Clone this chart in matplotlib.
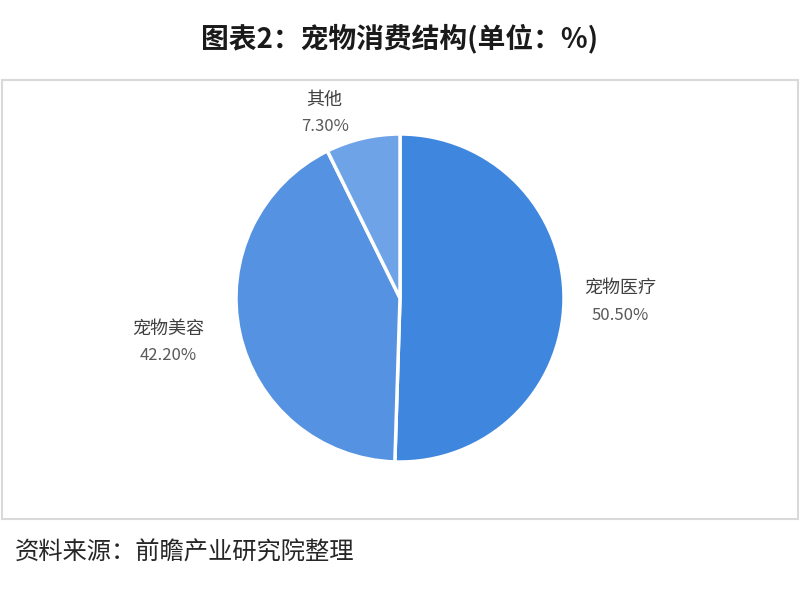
import numpy as np
import matplotlib
matplotlib.use("Agg")
from matplotlib import pyplot as plt
from matplotlib.patches import Rectangle

plt.rcParams['font.family'] = ['Noto Sans CJK SC', 'DejaVu Sans']

# 数据
categories = ['宠物医疗', '宠物美容', '其他']
values = [50.5, 42.2, 7.3]
colors = ['#3F86DE', '#5592E2', '#6FA3E8']
# 标签离圆心的距离（半径倍数）和角度微调
labelDist = [1.34, 1.44, 1.22]
labelShift = [0, -1.5, 9]

W, H = 800, 593
fig = plt.figure(figsize=(W / 100, H / 100), dpi=100)

# 外框
fig.patches.append(Rectangle((2 / W, 1 - 519 / H), 796 / W, 439 / H,
                             transform=fig.transFigure, fill=False,
                             edgecolor='#D9D9D9', linewidth=1.5))

fig.text(0.5, 1 - 39 / H, '图表2：宠物消费结构(单位：%)', ha='center', va='center',
         fontsize=20, fontweight='bold', color='#1A1A1A')
fig.text(15 / W, 1 - 553 / H, '资料来源：前瞻产业研究院整理', ha='left', va='center',
         fontsize=17.5, color='#262626')

cx, cy, r = 400, 298, 164
ax = fig.add_axes([(cx - r) / W, 1 - (cy + r) / H, 2 * r / W, 2 * r / H])
wedges, _ = ax.pie(values, colors=colors, startangle=90, counterclock=False,
                   radius=1, wedgeprops=dict(edgecolor='white', linewidth=2.5))
ax.set_xlim(-1, 1)
ax.set_ylim(-1, 1)
ax.set_aspect('equal')
ax.axis('off')

for w, name, v, d, s in zip(wedges, categories, values, labelDist, labelShift):
    ang = np.deg2rad((w.theta1 + w.theta2) / 2 + s)
    x, y = d * np.cos(ang), d * np.sin(ang)
    ax.text(x, y + 0.08, name, ha='center', va='center', fontsize=13,
            color='#404040', clip_on=False)
    ax.text(x, y - 0.085, '%.2f%%' % v, ha='center', va='center', fontsize=12,
            color='#595959', clip_on=False)

fig.savefig('out.png', dpi=100, facecolor='white')
